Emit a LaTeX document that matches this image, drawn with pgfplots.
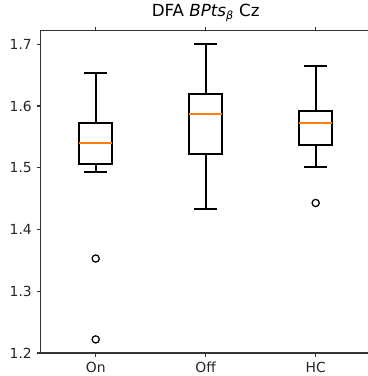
\documentclass[border=0pt]{standalone}
\usepackage{fontspec}
\setmainfont{DejaVu Sans}
\usepackage{pgfplots}
\pgfplotsset{compat=1.18}
\usepgfplotslibrary{statistics}
\usetikzlibrary{calc}
\definecolor{mplorange}{HTML}{FF7F0E}
\newlength\px
\setlength\px{0.72pt}
\pgfplotsset{
  mplbox/.style={draw=black, solid, line width=1.2pt, mark=o, mark size=2.6pt,
    mark options={draw=black, fill=none, solid, line width=0.9pt},
    boxplot/every median/.style={draw=mplorange, line width=1.2pt},
    boxplot/every box/.style={draw=black, line width=1.2pt},
    boxplot/every whisker/.style={draw=black, line width=1.2pt}},
}
\begin{document}
\begin{tikzpicture}
\begin{axis}[
  name=ax,
  scale only axis,
  width=330\px, height=322.3\px,
  xmin=0.5, xmax=3.5, ymin=1.2, ymax=1.722,
  xtick={1,2,3}, xticklabels={On,Off,HC},
  ytick={1.2,1.3,1.4,1.5,1.6,1.7},
  yticklabel style={/pgf/number format/fixed,/pgf/number format/precision=1},
  /pgf/number format/assume math mode=true,
  tick align=outside,
  major tick length=4\px,
  tick style={black!80, line width=0.9pt},
  axis line style={black!80, line width=0.9pt},
  ticklabel style={font=\fontsize{10}{12}\selectfont, text=black!85},
  title={DFA \textit{BPts}\textsubscript{\textit{β}} Cz},
  title style={font=\fontsize{12}{14}\selectfont, yshift=-4\px},
  boxplot/draw direction=y,
  boxplot/box extend=0.3,
  boxplot/whisker extend=0.21,
]
\addplot[mplbox,
  boxplot prepared={draw position=1, median=1.540, upper quartile=1.572, lower quartile=1.506,
  upper whisker=1.653, lower whisker=1.493}]
  coordinates {(1,1.353) (1,1.222)};
\addplot[mplbox,
  boxplot prepared={draw position=2, median=1.5875, upper quartile=1.619, lower quartile=1.5227,
  upper whisker=1.700, lower whisker=1.4334}]
  coordinates {};
\addplot[mplbox,
  boxplot prepared={draw position=3, median=1.572, upper quartile=1.592, lower quartile=1.537,
  upper whisker=1.665, lower whisker=1.5016}]
  coordinates {(3,1.443)};
\end{axis}
\pgfresetboundingbox
\useasboundingbox ($(ax.south west)+(-40.7\px,-23\px)$) rectangle ($(ax.north east)+(-2.7\px,30.7\px)$);
\end{tikzpicture}
\end{document}
